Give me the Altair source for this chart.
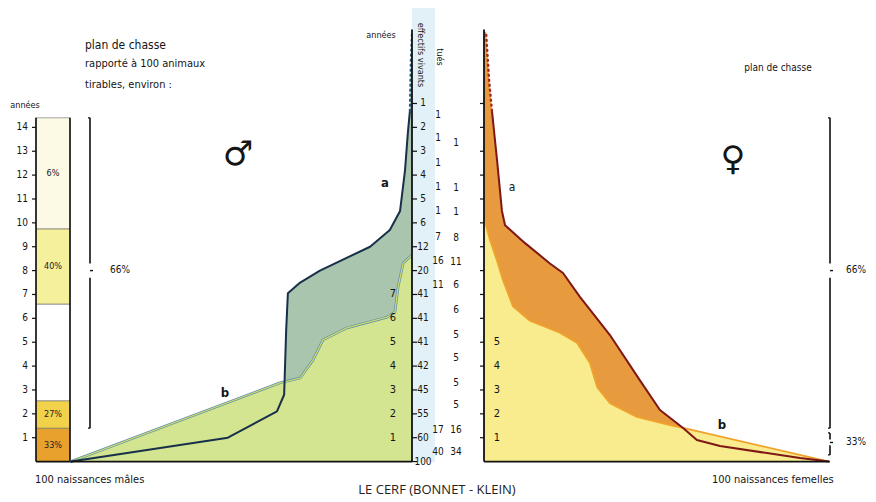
import altair as alt
import pandas as pd

# ---------------- data ----------------
# left column: shooting plan by age class (age in years)
bar_from = [0, 1.4, 2.55, 6.6, 9.75]
bar_to = [1.4, 2.55, 6.6, 9.75, 14.4]
bar_label = ["33%", "27%", "", "40%", "6%"]
bar_class = ["c1", "c2", "c3", "c4", "c5"]
left_ticks = list(range(1, 15))

# males: survivors out of 100 births versus age (years)
male_a_age = [0, 1.0, 2.1, 2.8, 5.5, 7.05, 7.5, 8.0, 9.0, 9.7, 10.5, 12.2, 13.8, 14.7, 16.8, 17.9]
male_a_n = [100, 54, 39.6, 37.5, 36.9, 36.4, 32.8, 27, 12.3, 6.5, 3.5, 2.05, 1.2, 0.6, 0.3, 0]
male_b_age = [0, 3.3, 3.5, 4.26, 5.1, 5.6, 6.05, 6.26, 7.3, 8.3, 8.5, 8.65]
male_b_n = [100, 38.7, 32.8, 29.0, 26.1, 19.1, 7.3, 5.0, 4.1, 2.6, 1.2, 0]

# females: survivors out of 100 births versus age (years)
fem_a_age = [0, 0.15, 0.65, 0.9, 1.41, 2.16, 3.4, 5.3, 6.9, 7.9, 8.3, 9.15, 9.9, 10.5, 12.6, 14.7, 16.0, 18.0]
fem_a_n = [100, 91.6, 68.4, 61.7, 57.7, 51, 45.2, 36.5, 27.8, 22.9, 19.1, 11.9, 6.1, 5.2, 3.8, 2.3, 1.45, 0.6]
fem_b_age = [0, 1.41, 1.53, 1.87, 2.45, 3.12, 4.13, 4.97, 5.4, 5.9, 6.5, 7.6, 8.4, 9.3, 10.2]
fem_b_n = [100, 57.7, 53.9, 44.3, 36.5, 32.8, 30.7, 27, 22, 13.3, 8.4, 5.5, 3.8, 1.7, 0]

# middle table
col1_age = [15, 14, 13, 12, 11, 10, 9, 8, 7, 6, 5, 4, 3, 2, 1, 0]
col1_txt = ["1", "2", "3", "4", "5", "6", "12", "20", "41", "41", "41", "42", "45", "55", "60", "100"]
col2_age = [14.5, 13.55, 12.5, 11.5, 10.5, 9.4, 8.4, 7.4, 1.32, 0.4]
col2_txt = ["1", "1", "1", "1", "1", "7", "16", "11", "17", "40"]
col3_age = [13.34, 11.45, 10.45, 9.36, 8.36, 7.4, 6.35, 5.3, 4.34, 3.3, 2.38, 1.32, 0.4]
col3_txt = ["1", "1", "1", "8", "11", "6", "6", "5", "5", "5", "5", "16", "34"]
male_axis_ticks = list(range(0, 16))
male_inner_age = [1, 2, 3, 4, 5, 6, 7]
fem_axis_ticks = list(range(1, 16))
fem_inner_age = [1, 2, 3, 4, 5]

# ---------------- helpers ----------------
FN = "Liberation Sans Narrow, Arial Narrow, DejaVu Sans Condensed, sans-serif"
H = 487
ysc = alt.Scale(domain=[-1.4, 19.0], nice=False, zero=False)
ONE = alt.Data(values=[{}])


def yd(v):
    return alt.YDatum(v, scale=ysc, axis=None)


def txt(s, x, y, size=10, align="left", font=FN, color="#151515", **kw):
    return alt.Chart(ONE).mark_text(text=s, align=align, baseline="middle", fontSize=size,
                                    font=font, color=color, **kw).encode(x=alt.value(x), y=alt.value(y))


def vrule(x, a0, a1, color="#111", w=1.4):
    return alt.Chart(ONE).mark_rule(color=color, strokeWidth=w).encode(
        x=alt.value(x), y=yd(a0), y2=alt.Y2Datum(a1))


def hrule(x0, x1, a, color="#111", w=1.4):
    return alt.Chart(ONE).mark_rule(color=color, strokeWidth=w).encode(
        x=alt.value(x0), x2=alt.value(x1), y=yd(a))


def bracket(x, top, bottom, notch, gap=0.3):
    return [vrule(x, top, notch + gap, w=1.6), vrule(x, notch - gap, bottom, w=1.6),
            hrule(x, x + 3, notch, w=1.4), hrule(x - 2, x, top, w=1.2), hrule(x - 2, x, bottom, w=1.2)]


def ticks_at(ages, x0, x1):
    return alt.Chart(pd.DataFrame({"age": ages})).mark_rule(color="#111", strokeWidth=1.2).encode(
        x=alt.value(x0), x2=alt.value(x1), y=alt.Y("age:Q", scale=ysc, axis=None))


def labels_at(ages, texts, x, size=10, align="center"):
    return alt.Chart(pd.DataFrame({"age": ages, "t": texts})).mark_text(
        fontSize=size, font=FN, align=align, baseline="middle", color="#151515").encode(
        x=alt.value(x), y=alt.Y("age:Q", scale=ysc, axis=None), text="t:N")


def curve_area(ages, ns, xsc, color):
    df = pd.DataFrame({"age": ages, "n": ns})
    return alt.Chart(df).mark_area(orient="horizontal", color=color, opacity=1).encode(
        x=alt.X("n:Q", scale=xsc, axis=None, stack=None),
        y=alt.Y("age:Q", scale=ysc, axis=None))


def curve_line(ages, ns, xsc, color, w, dash=None, lo=None, hi=None):
    df = pd.DataFrame({"age": ages, "n": ns})
    kw = dict(color=color, strokeWidth=w, strokeJoin="round", strokeCap="round")
    if dash:
        kw["strokeDash"] = dash
    ch = alt.Chart(df)
    if lo is not None:
        ch = ch.transform_filter(alt.datum.age >= lo)
    if hi is not None:
        ch = ch.transform_filter(alt.datum.age <= hi)
    return ch.mark_line(**kw).encode(
        x=alt.X("n:Q", scale=xsc, axis=None),
        y=alt.Y("age:Q", scale=ysc, axis=None),
        order=alt.Order("age:Q"))


# ---------------- left column ----------------
bar_df = pd.DataFrame({"from": bar_from, "to": bar_to, "label": bar_label, "cls": bar_class})
bars = alt.Chart(bar_df).mark_rect(stroke="#666", strokeWidth=0.6).encode(
    x=alt.value(28), x2=alt.value(62),
    y=alt.Y("from:Q", scale=ysc, axis=None), y2="to:Q",
    color=alt.Color("cls:N", legend=None,
                    scale=alt.Scale(domain=bar_class,
                                    range=["#e7a12c", "#f2d24a", "#ffffff", "#f5f09c", "#fcf9e4"])))
bar_txt = alt.Chart(bar_df).transform_filter(alt.datum.label != "").transform_calculate(
    mid="(datum['from'] + datum['to']) / 2").mark_text(
    fontSize=9, font=FN, color="#222").encode(
    x=alt.value(45), y=alt.Y("mid:Q", scale=ysc, axis=None), text="label:N")
bar_edges = [alt.Chart(bar_df).mark_rule(color="#111", strokeWidth=1.6).encode(
    x=alt.value(xv), y=alt.Y("min(from):Q", scale=ysc, axis=None), y2=alt.Y2("max(to):Q"))
    for xv in (28, 62)]

left = alt.layer(
    bars, bar_txt, *bar_edges,
    ticks_at(left_ticks, 24, 28),
    labels_at(left_ticks, [str(a) for a in left_ticks], 20, size=10, align="right"),
    txt("années", 17, 97, size=9, align="center"),
    hrule(28, 63, 0, w=1.6),
    txt("100 naissances mâles", 27, 472, size=11),
).properties(width=63, height=H)

# ---------------- male panel ----------------
xm = alt.Scale(domain=[0, 100], reverse=True, nice=False)
male = alt.layer(
    curve_area(male_a_age, male_a_n, xm, "#a9c5ad"),
    curve_area(male_b_age, male_b_n, xm, "#d3e590"),
    curve_line(male_b_age, male_b_n, xm, "#5d88b3", 2.6),
    curve_line(male_b_age, male_b_n, xm, "#c9dd6c", 1.3),
    curve_line(male_a_age, male_a_n, xm, "#18304a", 2.0, hi=14.7),
    curve_line(male_a_age, male_a_n, xm, "#2c5a7a", 2.4, dash=[1, 4], lo=14.7),
    hrule(0, 341, 0, w=1.6),
    labels_at(male_inner_age, [str(a) for a in male_inner_age], 322, size=11),
    txt("plan de chasse", 14, 37, size=12),
    txt("rapporté à 100 animaux", 14, 56, size=11),
    txt("tirables, environ :", 14, 77, size=11),
    txt("♂", 167, 147, size=34, align="center", font="DejaVu Sans"),
    txt("a", 314, 175, size=13, align="center", fontWeight="bold"),
    txt("b", 154, 385, size=13, align="center", fontWeight="bold"),
    txt("années", 310, 27, size=9, align="center"),
    txt("66%", 39, 262, size=10),
    *bracket(19, 14.4, 1.4, 8.0),
).properties(width=341, height=H)

# ---------------- middle table ----------------
band = alt.Chart(ONE).mark_rect(color="#e2f1f7").encode(
    x=alt.value(0), x2=alt.value(23), y=alt.value(0), y2=alt.value(454))
middle = alt.layer(
    band,
    vrule(0, 18.1, 0, w=1.8),
    ticks_at(male_axis_ticks, 0, 5),
    labels_at(col1_age, col1_txt, 11, size=10),
    labels_at(col2_age, col2_txt, 26, size=10),
    labels_at(col3_age, col3_txt, 44, size=10),
    txt("effectifs vivants", 9, 47, size=9, align="center", angle=90),
    txt("tués", 28, 49, size=9, align="center", angle=90),
    txt("LE CERF (BONNET - KLEIN)", 25, 482, size=13, align="center", font="Open Sans", color="#222"),
).properties(width=72, height=H)

# ---------------- female panel ----------------
xf = alt.Scale(domain=[0, 110.14], nice=False)
female = alt.layer(
    curve_area(fem_a_age, fem_a_n, xf, "#e79a3e"),
    curve_area(fem_b_age, fem_b_n, xf, "#f8ec8e"),
    curve_line(fem_b_age, fem_b_n, xf, "#f0a22a", 1.8),
    curve_line(fem_a_age, fem_a_n, xf, "#7e1715", 2.0, hi=14.7),
    curve_line(fem_a_age, fem_a_n, xf, "#a8291c", 2.4, dash=[1, 4], lo=14.7),
    vrule(0, 18.1, 0, w=1.8),
    ticks_at(fem_axis_ticks, -4, 0),
    labels_at(fem_inner_age, [str(a) for a in fem_inner_age], 13, size=11),
    hrule(0, 345, 0, w=1.6),
    txt("♀", 249, 152, size=34, align="center", font="DejaVu Sans"),
    txt("a", 28, 179, size=12, align="center"),
    txt("b", 238, 417, size=13, align="center", fontWeight="bold"),
    txt("plan de chasse", 294, 60, size=10, align="center"),
    *bracket(346, 14.4, 1.4, 8.0),
    *bracket(346, 1.2, 0.28, 0.8, gap=0.12),
    txt("66%", 362, 262, size=10),
    txt("33%", 362, 434, size=10),
    txt("100 naissances femelles", 228, 472, size=11),
).properties(width=380, height=H)

chart = alt.hconcat(left, male, middle, female, spacing=0, bounds="flush").properties(
    padding=0, background="white").configure_view(stroke=None)

chart.save("out.html", embed_options={"renderer": "svg", "actions": False})
